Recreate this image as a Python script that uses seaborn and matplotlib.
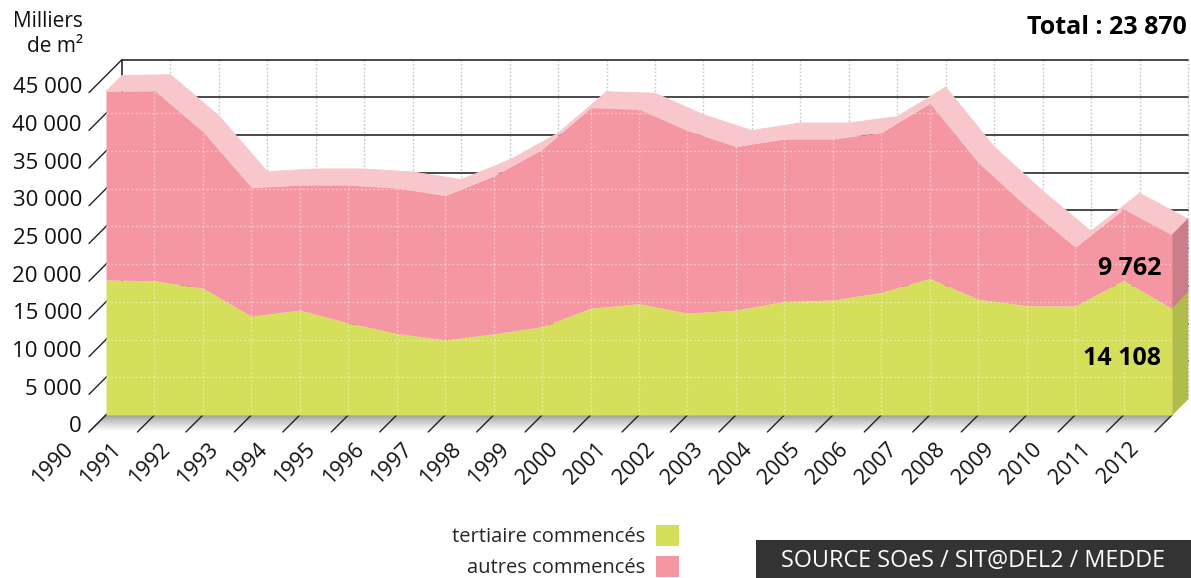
import matplotlib
matplotlib.use("Agg")
import matplotlib.pyplot as plt
from matplotlib.patches import Polygon, Rectangle, Patch
from matplotlib.transforms import offset_copy
import numpy as np
import pandas as pd
import seaborn as sns

# surfaces commencees (milliers de m2)
years = list(range(1990, 2013))
tertiaire = [17900, 17800, 16800, 13100, 13900, 12200, 10800, 9950, 10750, 11700, 14150, 14750,
             13500, 13900, 15050, 15250, 16250, 18100, 15350, 14500, 14450, 17850, 14108]
total = [42900, 43000, 37550, 30150, 30500, 30500, 30100, 29100, 31700, 35250, 40750, 40550,
         37700, 35600, 36600, 36600, 37450, 41350, 33450, 27600, 22250, 27300, 23870]
y_ticks = list(range(0, 50000, 5000))

df = pd.DataFrame({"annee": years, "tertiaire": tertiaire, "total": total})
df["autres"] = df["total"] - df["tertiaire"]

GREEN = "#d5df5b"
PINK = "#f497a2"
PINK_TOP = "#f8c7cb"
PINK_SIDE = "#c97e89"
GREEN_SIDE = "#b0bc4c"

sns.set_theme(style="white")
plt.rcParams["font.family"] = ["Open Sans", "DejaVu Sans"]

W, H = 1191, 578
fig = plt.figure(figsize=(W / 100, H / 100), dpi=100)
ax_l, ax_r, ax_b, ax_t = 106, 1172, 415, 75.6
ax = fig.add_axes([ax_l / W, (H - ax_b) / H, (ax_r - ax_l) / W, (ax_b - ax_t) / H])
x0, x1 = years[0], years[-1]
ax.set_xlim(x0, x1)
ax.set_ylim(0, 45000)
ax.axis("off")

# pixel -> data units
px_x = (x1 - x0) / (ax_r - ax_l)
px_y = 45000 / (ax_b - ax_t)
BX, BY = 16 * px_x, 16 * px_y      # back wall depth
FX, FY = -17 * px_x, -17 * px_y    # front edge (ticks / floor)

# back wall
for v in y_ticks[1:]:
    ax.plot([x0 + BX, x1 + BX], [v + BY, v + BY], color="#3a3a3a", lw=1.3, zorder=1, clip_on=False)
for yr in years[1:]:
    ax.plot([yr + BX, yr + BX], [BY, 45000 + BY], color="#c4c4c4", lw=1,
            ls=(0, (1.2, 1.5)), zorder=0.9, clip_on=False)
ax.plot([x0 + BX, x0 + BX], [BY, 45000 + BY], color="#3a3a3a", lw=1.3, zorder=1, clip_on=False)

# diagonal ticks on the value axis
for v in y_ticks:
    ax.plot([x0 + FX, x0 + BX], [v + FY, v + BY], color="#222222", lw=1, zorder=1.5, clip_on=False)

# floor with gradient
n_strips = 17
for k in range(n_strips):
    c = 0.60 + 0.40 * (k / (n_strips - 1)) ** 0.8
    a, b = k / n_strips, (k + 1) / n_strips
    poly = Polygon([(x0 + a * FX, a * FY), (x1 + a * FX, a * FY),
                    (x1 + b * FX, b * FY), (x0 + b * FX, b * FY)],
                   closed=True, facecolor=(c, c, c), edgecolor=(c, c, c), lw=0.3,
                   zorder=2, clip_on=False)
    ax.add_patch(poly)
for yr in years:
    ax.plot([yr, yr + FX], [0, FY], color="#222222", lw=1, zorder=2.5, clip_on=False)

# top band of the extruded surface
for i in range(len(years) - 1):
    xa, xb = years[i], years[i + 1]
    ta, tb = total[i], total[i + 1]
    ax.add_patch(Polygon([(xa, ta), (xb, tb), (xb + BX, tb + BY), (xa + BX, ta + BY)],
                         closed=True, facecolor=PINK_TOP, edgecolor=PINK_TOP, lw=0.6,
                         zorder=2, clip_on=False))

# right side faces
g_end, t_end = tertiaire[-1], total[-1]
ax.add_patch(Polygon([(x1, g_end), (x1, t_end), (x1 + BX, t_end + BY), (x1 + BX, g_end + BY)],
                     closed=True, facecolor=PINK_SIDE, edgecolor=PINK_SIDE, lw=0.5,
                     zorder=2.2, clip_on=False))
ax.add_patch(Polygon([(x1, 0), (x1, g_end), (x1 + BX, g_end + BY), (x1 + BX, BY)],
                     closed=True, facecolor=GREEN_SIDE, edgecolor=GREEN_SIDE, lw=0.5,
                     zorder=2.2, clip_on=False))

# front areas
ax.fill_between(df["annee"], 0, df["tertiaire"], color=GREEN, lw=0, zorder=3)
ax.fill_between(df["annee"], df["tertiaire"], df["total"], color=PINK, lw=0, zorder=3)

# dotted grid over the front areas
clip = Polygon([(x0, 0)] + list(zip(years, total)) + [(x1, 0)], closed=True,
               facecolor="none", edgecolor="none", transform=ax.transData)
ax.add_patch(clip)
for v in y_ticks[1:]:
    ln, = ax.plot([x0, x1], [v, v], color="white", alpha=0.4, lw=1, ls=(0, (1.5, 1.5)), zorder=3.5)
    ln.set_clip_path(clip)
for yr in years[1:-1]:
    ln, = ax.plot([yr, yr], [0, 45000], color="white", alpha=0.4, lw=1, ls=(0, (1.5, 1.5)), zorder=3.5)
    ln.set_clip_path(clip)

# tick labels
for v in y_ticks:
    lab = f"{v:,}".replace(",", " ")
    ax.text(x0, v, lab, transform=offset_copy(ax.transData, fig=fig, x=-24, y=-12, units="dots"),
            ha="right", va="center", fontsize=16, color="#111111")
for yr in years:
    ax.text(yr, 0, str(yr), transform=offset_copy(ax.transData, fig=fig, x=-36, y=-31, units="dots"),
            ha="right", va="center", rotation=45, rotation_mode="anchor", fontsize=15.5,
            color="#111111")

# end values
lab_tr = offset_copy(ax.transData, fig=fig, x=-11, y=3, units="dots")
ax.text(x1, (g_end + t_end) / 2, f"{t_end - g_end:,}".replace(",", " "), transform=lab_tr,
        ha="right", va="center", fontsize=18, fontweight="bold", color="black", zorder=5)
ax.text(x1, g_end / 2, f"{g_end:,}".replace(",", " "), transform=lab_tr,
        ha="right", va="center", fontsize=18, fontweight="bold", color="black", zorder=5)

fig.text(1187 / W, 1 - 27 / H, f"Total : {t_end:,}".replace(",", " "), ha="right", va="center",
         fontsize=18, fontweight="bold", color="black")
fig.text(83 / W, 1 - 34 / H, "Milliers\nde m²", ha="right", va="center", multialignment="right",
         fontsize=15, color="#111111", linespacing=1.2)

# legend
handles = [Patch(facecolor=GREEN, edgecolor="none"), Patch(facecolor=PINK, edgecolor="none")]
fig.legend(handles, ["tertiaire commencés", "autres commencés"], markerfirst=False, frameon=False,
           loc="upper right", bbox_to_anchor=(679 / W, 1 - 525 / H), fontsize=14.5,
           handlelength=1.15, handleheight=1.2, handletextpad=0.55, labelspacing=0.45,
           borderpad=0, borderaxespad=0)

# source box
fig.add_artist(Rectangle((756 / W, 0), (W - 756) / W, 38 / H, transform=fig.transFigure,
                         facecolor="#333333", edgecolor="none"))
fig.text(973 / W, 17 / H, "SOURCE SOeS / SIT@DEL2 / MEDDE", ha="center", va="center",
         fontsize=16.8, color="white")

fig.savefig("out.png", dpi=100)
